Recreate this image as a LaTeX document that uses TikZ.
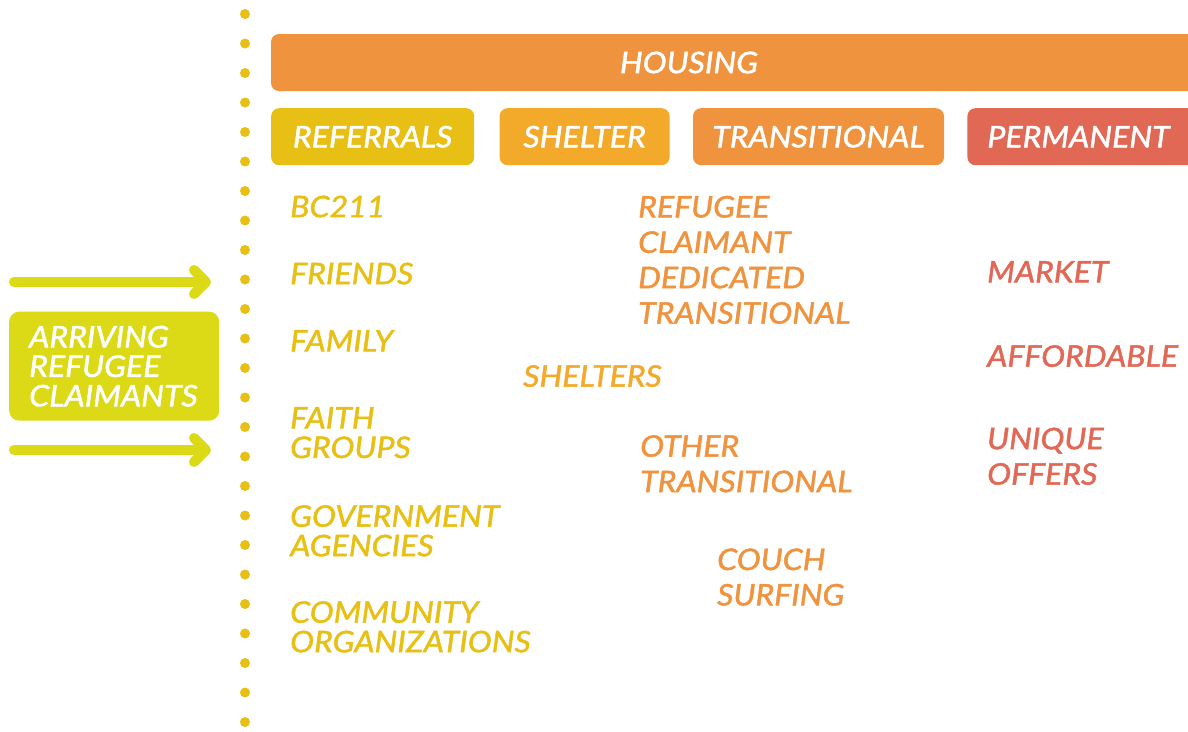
\documentclass[tikz,border=0pt]{standalone}
\usepackage{fontspec}
\setmainfont{Lato}[FakeStretch=1.08, FakeBold=1.6]
\usepackage{tikz}
\usetikzlibrary{positioning, arrows.meta}
\definecolor{referral}{HTML}{E8BF14}
\definecolor{shelter}{HTML}{F3AA2A}
\definecolor{transit}{HTML}{EF933F}
\definecolor{permanent}{HTML}{E26856}
\definecolor{arrival}{HTML}{DCD917}
\newcommand{\entry}{\itshape\fontsize{29.7}{29.5}\selectfont}
\newcommand{\wideentry}{\itshape\fontsize{29.7}{35.4}\selectfont}

\begin{document}
\begin{tikzpicture}[
				x=1pt, y=-1pt,
				node distance=23pt,
				tab/.style={rectangle, rounded corners=8pt, minimum height=57pt, inner sep=0pt, text=white, font=\entry},
				item/.style={anchor=north west, inner sep=0pt, align=left, font=\entry},
				wide item/.style={item, font=\wideentry},
				inflow/.style={draw=arrival, line width=10pt, line cap=round, -{Straight Barb[round, length=12pt, width=24pt]}}]

			\useasboundingbox (0,0) rectangle (1188,731);
			\clip (0,0) rectangle (1188,731);

			% dotted divider
			\foreach \k in {0,...,24}
				\fill[referral] (245,14+29.5*\k) circle (5pt);

			% housing bar and its four tabs
			\fill[transit, rounded corners=8pt] (271,34) rectangle (1220,91);
			\node[font=\entry, text=white] (housing) at (689,62.5) {HOUSING};

			\node[tab, fill=referral, minimum width=203pt, anchor=north west] (referrals) at (271,108) {REFERRALS};
			\node[tab, fill=shelter, minimum width=170pt, right=25pt of referrals] (shelter) {SHELTER};
			\node[tab, fill=transit, minimum width=251pt, right=of shelter] (transitional) {TRANSITIONAL};
			\node[tab, fill=permanent, minimum width=245pt, text width=205pt, inner xsep=20pt, align=left, right=of transitional] (permanent) {PERMANENT};

			% arrivals
			\node[fill=arrival, rounded corners=10pt, anchor=north west, minimum width=209pt, minimum height=109pt,
				text width=170pt, inner xsep=20pt, align=left, text=white, font=\entry] (arriving) at (9,311.5) {ARRIVING\\REFUGEE\\CLAIMANTS};

			\coordinate (in_top) at (14,282);
			\coordinate (divider_top) at (211,282);
			\coordinate (in_bottom) at (14,450);
			\coordinate (divider_bottom) at (211,450);
			\draw[inflow] (in_top) -- (divider_top);
			\draw[inflow] (in_bottom) -- (divider_bottom);

			% referrals
			\node[item, text=referral] (bc211) at (290,195.5) {BC211};
			\node[item, text=referral] (friends) at (290,262.5) {FRIENDS};
			\node[item, text=referral] (family) at (290,330) {FAMILY};
			\node[item, text=referral] (faith_groups) at (290,407) {FAITH\\GROUPS};
			\node[item, text=referral] (government) at (290,505) {GOVERNMENT\\AGENCIES};
			\node[item, text=referral] (community) at (290,601) {COMMUNITY\\ORGANIZATIONS};

			% shelter
			\node[item, text=shelter] (shelters) at (523,365) {SHELTERS};

			% transitional
			\node[wide item, text=transit] (dedicated) at (638,195.7) {REFUGEE\\CLAIMANT\\DEDICATED\\TRANSITIONAL};
			\node[wide item, text=transit] (other) at (640,435) {OTHER\\TRANSITIONAL};
			\node[wide item, text=transit] (couch) at (717,548.3) {COUCH\\SURFING};

			% permanent
			\node[item, text=permanent] (market) at (987,261) {MARKET};
			\node[item, text=permanent] (affordable) at (987,345) {AFFORDABLE};
			\node[wide item, text=permanent] (unique) at (987,427.5) {UNIQUE\\OFFERS};

		\end{tikzpicture}
\end{document}
